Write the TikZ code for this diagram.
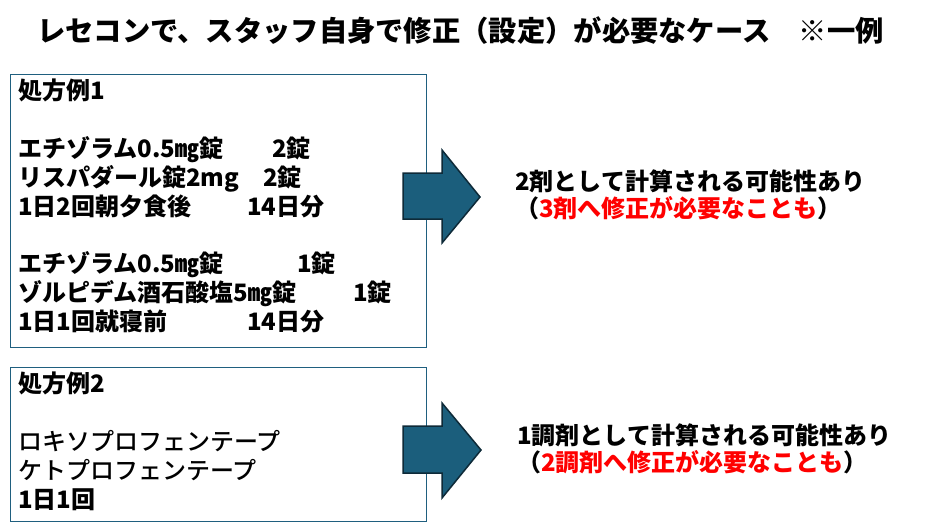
\documentclass[tikz,border=0pt]{standalone}
\usepackage{fontspec}
\setmainfont{Noto Sans CJK JP}
\newfontfamily\medfont{Noto Sans CJK JP Medium}
\usetikzlibrary{positioning}
\definecolor{rxblue}{RGB}{31,95,127}
\definecolor{arrfill}{RGB}{27,94,124}
\definecolor{arrline}{RGB}{14,42,56}
\definecolor{rxred}{RGB}{255,0,0}

\begin{document}
\begin{tikzpicture}[x=1pt,y=-1pt,
  rxbox/.style={draw=rxblue,line width=1pt},
  arr/.style={fill=arrfill,draw=arrline,line width=1.5pt,line join=miter},
  rxtext/.style={anchor=north west,inner sep=0pt,align=left,
    font=\fontsize{24}{28.8}\selectfont\bfseries},
  note/.style={anchor=west,inner sep=0pt,align=left,
    font=\fontsize{24}{27}\selectfont\bfseries}]
\useasboundingbox (0,0) rectangle (927,525);
% title
\node[anchor=west,inner sep=0pt,font=\fontsize{28.3}{30}\selectfont\bfseries]
  (title) at (37,31) {レセコンで、スタッフ自身で修正（設定）が必要なケース　※一例};

% example 1
\draw[rxbox] (10,74) rectangle (426,347);
\node[rxtext] (rx1) at (18,79) {処方例1\\[28.8pt]
  \makebox[254pt][l]{エチゾラム0.5㎎錠}2錠\\
  \makebox[245pt][l]{リスパダール錠2mg}2錠\\
  \makebox[229pt][l]{1日2回朝夕食後}14日分\\[28.8pt]
  \makebox[279pt][l]{エチゾラム0.5㎎錠}1錠\\
  \makebox[335pt][l]{ゾルピデム酒石酸塩5㎎錠}1錠\\
  \makebox[229pt][l]{1日1回就寝前}14日分};
\draw[arr] (403,173) -- (442,173) -- (442,150) -- (480,197)
  -- (442,243) -- (442,219) -- (403,219) -- cycle;
\node[note] (res1) at (515,195) {2剤として計算される可能性あり\\
  （\textcolor{rxred}{3剤へ修正が必要なことも}）};

% example 2
\draw[rxbox] (10,367) rectangle (426,521);
\node[rxtext] (rx2) at (18,372) {処方例2\\[28.8pt]
  {\medfont\mdseries ロキソプロフェンテープ}\\
  {\medfont\mdseries ケトプロフェンテープ}\\
  1日1回};
\draw[arr] (403,426) -- (442,426) -- (442,403) -- (481,450)
  -- (442,498) -- (442,473) -- (403,473) -- cycle;
\node[note] (res2) at (517,449) {1調剤として計算される可能性あり\\
  （\textcolor{rxred}{2調剤へ修正が必要なことも}）};
\end{tikzpicture}
\end{document}
